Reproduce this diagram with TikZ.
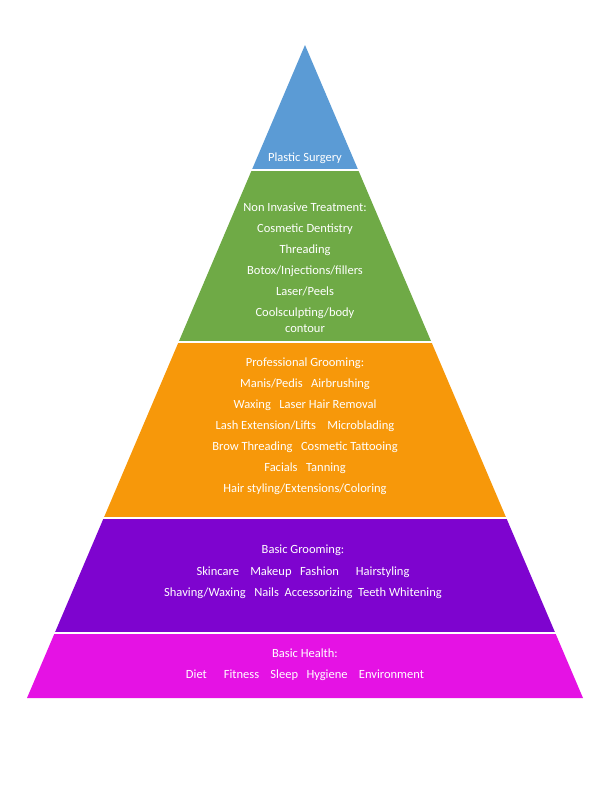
\documentclass[tikz,border=0pt]{standalone}
\usepackage{fontspec}
\setmainfont{Carlito}
\definecolor{cblue}{HTML}{5B9BD5}
\definecolor{cgreen}{HTML}{6FAA46}
\definecolor{corange}{HTML}{F7980A}
\definecolor{cpurple}{HTML}{7E04CF}
\definecolor{cmag}{HTML}{E512E4}
\begin{document}
\begin{tikzpicture}[x=1pt,y=-1pt,
  lbl/.style={text=white,align=center,font=\fontsize{12.5}{21}\selectfont,inner sep=0pt},
  sep/.style={white,line width=2pt}]
\useasboundingbox (0,0) rectangle (610,787);
\fill[cblue] (305,45) -- (358.2,170) -- (251.8,170) -- cycle;
\fill[cgreen] (251.8,170) -- (358.2,170) -- (431.4,342) -- (178.6,342) -- cycle;
\fill[corange] (178.6,342) -- (431.4,342) -- (506.3,518) -- (103.7,518) -- cycle;
\fill[cpurple] (103.7,518) -- (506.3,518) -- (555.3,633) -- (54.7,633) -- cycle;
\fill[cmag] (54.7,633) -- (555.3,633) -- (583,698) -- (27,698) -- cycle;
\draw[sep] (240,170) -- (370,170);
\draw[sep] (170,342) -- (440,342);
\draw[sep] (95,518) -- (515,518);
\draw[sep] (45,633) -- (565,633);
\node[lbl] (t1) at (305,158) {Plastic Surgery};
\node[lbl,anchor=north] (t2) at (305,203) {Non Invasive Treatment:\\Cosmetic Dentistry\\Threading\\Botox/Injections/fillers\\Laser/Peels\\Coolsculpting/body\\[-5pt]contour};
\node[lbl,anchor=north] (t3) at (305,358) {Professional Grooming:\\Manis/Pedis\ \ \ Airbrushing\\Waxing\ \ \ Laser Hair Removal\\Lash Extension/Lifts\ \ \ \ Microblading\\Brow Threading\ \ \ Cosmetic Tattooing\\Facials\ \ \ Tanning\\Hair styling/Extensions/Coloring};
\node[lbl,anchor=north] (t4) at (303,545) {Basic Grooming:\\[1pt]Skincare\ \ \ \ Makeup\ \ \ Fashion\ \ \ \ \ \ Hairstyling\\Shaving/Waxing\ \ \ Nails\ \ Accessorizing\ \ Teeth Whitening};
\node[lbl,anchor=north] (t5) at (305,649) {Basic Health:\\Diet\ \ \ \ \ \ Fitness\ \ \ \ Sleep\ \ \ Hygiene\ \ \ \ Environment};
\end{tikzpicture}
\end{document}
